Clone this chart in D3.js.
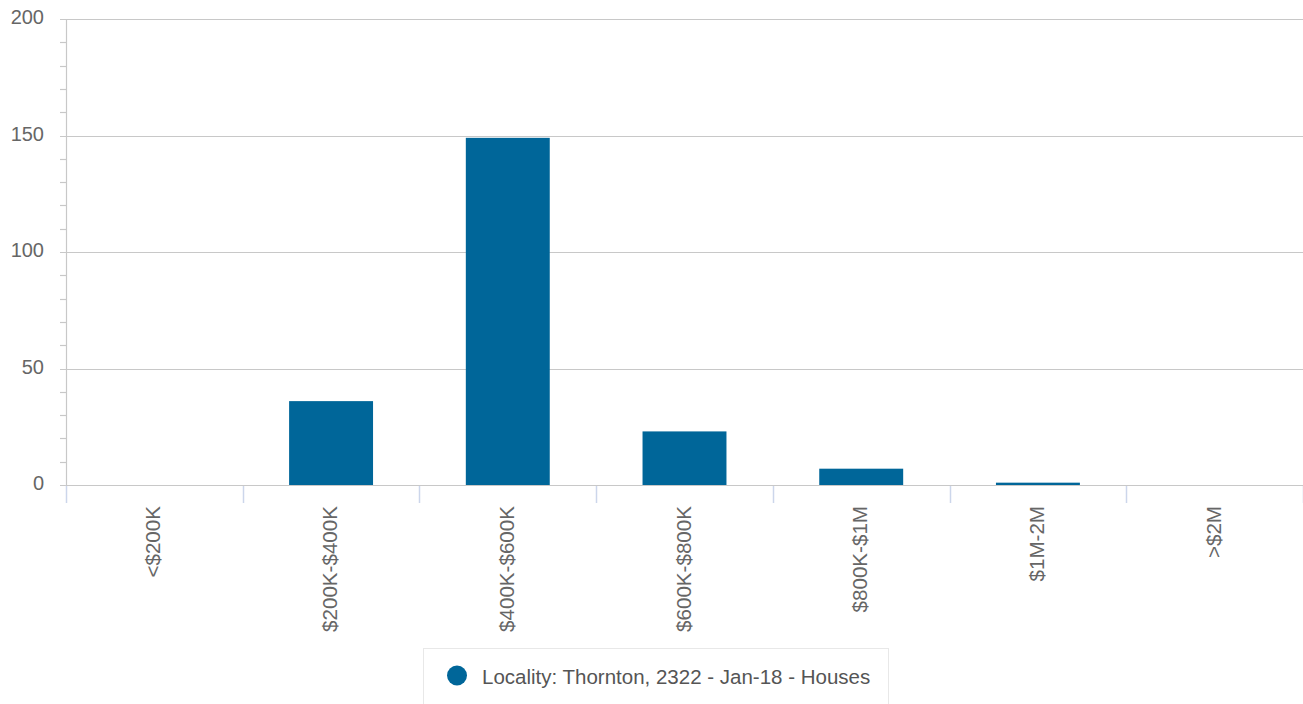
<!DOCTYPE html>
<html><head><meta charset="utf-8">
<script src="https://cdn.jsdelivr.net/npm/d3@7"></script>
<style>
html,body{margin:0;padding:0;background:#fff;}
svg{display:block;font-family:"Liberation Sans",Arial,sans-serif;}
</style></head>
<body><svg id="chart" width="1303" height="704"></svg>
<script>
const categories = ["<$200K","$200K-$400K","$400K-$600K","$600K-$800K","$800K-$1M","$1M-2M",">$2M"];
const values = [0, 36, 149, 23, 7, 1, 0];
const yTicks = [0, 50, 100, 150, 200];
const seriesName = "Locality: Thornton, 2322 - Jan-18 - Houses";

(function () {
const svg = d3.select("#chart");
const pLeft = 66, pRight = 1303, pTop = 19, pBottom = 485;
const x = d3.scaleBand().domain(categories).range([pLeft, pRight]).padding(0);
const y = d3.scaleLinear().domain([0, 200]).range([pBottom, pTop]);
const color = "#006699";

// gridlines
svg.append("g").selectAll("line").data(yTicks).join("line")
  .attr("x1", pLeft - 6).attr("x2", pRight)
  .attr("y1", d => Math.round(y(d)) + 0.5).attr("y2", d => Math.round(y(d)) + 0.5)
  .attr("stroke", "#c8c8c8").attr("stroke-width", 1.2);

// minor ticks
const minor = d3.range(0, 201, 10).filter(v => v % 50 !== 0);
svg.append("g").selectAll("line").data(minor).join("line")
  .attr("x1", pLeft - 6).attr("x2", pLeft)
  .attr("y1", d => Math.round(y(d)) + 0.5).attr("y2", d => Math.round(y(d)) + 0.5)
  .attr("stroke", "#c8c8c8").attr("stroke-width", 1.2);

// y axis line
svg.append("line").attr("x1", pLeft + 0.5).attr("x2", pLeft + 0.5)
  .attr("y1", pTop).attr("y2", pBottom).attr("stroke", "#c8c8c8").attr("stroke-width", 1.2);

// y labels
svg.append("g").selectAll("text").data(yTicks).join("text")
  .attr("x", 44).attr("y", d => y(d) + 5)
  .attr("text-anchor", "end").attr("font-size", 20).attr("fill", "#666")
  .text(d => d);

// x ticks
const bounds = categories.map(c => x(c)).concat([pRight]);
svg.append("g").selectAll("line").data(bounds).join("line")
  .attr("x1", d => Math.round(d) + 0.5).attr("x2", d => Math.round(d) + 0.5)
  .attr("y1", pBottom).attr("y2", pBottom + 18)
  .attr("stroke", "#ccd6eb").attr("stroke-width", 1.5);

// bars
const frac = 0.475;
svg.append("g").selectAll("rect").data(categories).join("rect")
  .attr("x", (c) => x(c) + x.bandwidth() * (1 - frac) / 2)
  .attr("width", x.bandwidth() * frac)
  .attr("y", (c, i) => y(values[i]))
  .attr("height", (c, i) => pBottom - y(values[i]))
  .attr("fill", color);

// baseline
svg.append("line").attr("x1", pLeft).attr("x2", pRight)
  .attr("y1", pBottom + 0.5).attr("y2", pBottom + 0.5)
  .attr("stroke", "#c8c8c8").attr("stroke-width", 1.2);

// x labels (rotated)
svg.append("g").selectAll("text").data(categories).join("text")
  .attr("transform", c => `translate(${x(c) + x.bandwidth() / 2 + 6},${pBottom + 21}) rotate(-90)`)
  .attr("text-anchor", "end").attr("font-size", 20.6).attr("fill", "#666")
  .text(c => c);

// legend
const lg = svg.append("g");
lg.append("rect").attr("x", 423.5).attr("y", 648.5).attr("width", 465).attr("height", 70)
  .attr("fill", "#fff").attr("stroke", "#e8e8e8").attr("stroke-width", 1);
lg.append("circle").attr("cx", 457).attr("cy", 675.5).attr("r", 10).attr("fill", color);
lg.append("text").attr("x", 482).attr("y", 683.5).attr("font-size", 20.5).attr("fill", "#555")
  .text(seriesName);
})();
</script>
</body></html>
